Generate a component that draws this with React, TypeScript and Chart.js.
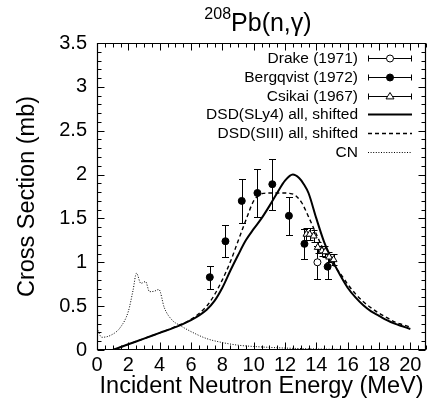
import React, { useEffect, useRef } from "react";
import { Chart, registerables } from "chart.js";

Chart.register(...registerables);

const FONT = "'Liberation Sans', Arial, Helvetica, sans-serif";

// ---- data ----
const xTickValues = [0, 2, 4, 6, 8, 10, 12, 14, 16, 18, 20];
const yTickValues = [0, 0.5, 1, 1.5, 2, 2.5, 3, 3.5];
const yTickLabels = ["0", "0.5", "1", "1.5", "2", "2.5", "3", "3.5"];
const xMinorStep = 0.5;
const yMinorStep = 0.1;

const drakeE = [14.07];
const drakeXS = [1.0];
const drakeErr = [0.19];

const bergE = [7.2, 8.2, 9.24, 10.24, 11.19, 12.25, 13.24, 14.72];
const bergXS = [0.83, 1.24, 1.7, 1.79, 1.89, 1.53, 1.21, 0.95];
const bergErr = [0.13, 0.18, 0.25, 0.27, 0.29, 0.22, 0.17, 0.14];

const csikaiE = [13.37, 13.58, 13.83, 14.09, 14.36, 14.57, 14.82, 15.1];
const csikaiXS = [1.32, 1.32, 1.3, 1.17, 1.13, 1.12, 1.06, 1.03];
const csikaiErr = [0.07, 0.07, 0.07, 0.06, 0.06, 0.06, 0.06, 0.06];

const slyE = [1, 2, 3, 4, 5, 6, 7, 7.5, 8, 8.5, 9, 9.5, 10, 10.5, 11, 11.5, 12, 12.5, 12.9, 13.2, 13.5, 14, 14.5, 15, 15.5, 16, 16.5, 17, 17.5, 18, 18.5, 19, 19.5, 20];
const slyXS = [0, 0.065, 0.13, 0.195, 0.26, 0.34, 0.46, 0.56, 0.71, 0.9, 1.08, 1.25, 1.38, 1.5, 1.64, 1.79, 1.93, 2.0, 1.96, 1.89, 1.79, 1.5, 1.23, 1.03, 0.86, 0.71, 0.6, 0.51, 0.44, 0.39, 0.34, 0.3, 0.27, 0.24];

const siiiE = [1, 2, 3, 4, 5, 6, 7, 7.5, 8, 8.5, 9, 9.5, 10, 10.3, 10.6, 11, 11.5, 12, 12.3, 12.6, 12.9, 13.1, 13.5, 14, 14.5, 15, 15.5, 16, 16.5, 17, 17.5, 18, 18.5, 19, 19.5, 20];
const siiiXS = [0, 0.065, 0.13, 0.195, 0.265, 0.35, 0.5, 0.63, 0.8, 1.0, 1.24, 1.48, 1.7, 1.76, 1.785, 1.79, 1.79, 1.79, 1.785, 1.77, 1.72, 1.67, 1.52, 1.32, 1.13, 0.99, 0.88, 0.75, 0.64, 0.55, 0.48, 0.42, 0.37, 0.32, 0.29, 0.26];

const cnE = [0, 0.3, 0.9, 1.5, 2.0, 2.3, 2.52, 2.8, 3.1, 3.35, 3.65, 3.95, 4.3, 4.8, 5.3, 6, 7, 8, 9, 10, 11, 12, 14, 16, 18, 20];
const cnXS = [0.25, 0.145, 0.17, 0.26, 0.44, 0.68, 0.875, 0.76, 0.78, 0.665, 0.67, 0.69, 0.48, 0.34, 0.28, 0.21, 0.13, 0.085, 0.055, 0.04, 0.03, 0.022, 0.012, 0.006, 0.003, 0.001];

const labels = [
  "Drake (1971)",
  "Bergqvist (1972)",
  "Csikai (1967)",
  "DSD(SLy4) all, shifted",
  "DSD(SIII) all, shifted",
  "CN",
];

const pts = (xs: number[], ys: number[]) => xs.map((x, i) => ({ x, y: ys[i] }));

// ---- plugins ----
const errorBarPlugin = {
  id: "errorBars",
  beforeDatasetsDraw(chart: any) {
    const { ctx, chartArea } = chart;
    const xs = chart.scales.x;
    const ys = chart.scales.y;
    ctx.save();
    ctx.beginPath();
    ctx.rect(chartArea.left, chartArea.top, chartArea.right - chartArea.left, chartArea.bottom - chartArea.top);
    ctx.clip();
    ctx.strokeStyle = "#000";
    ctx.lineWidth = 1;
    chart.data.datasets.forEach((ds: any) => {
      if (!ds.errors) return;
      ds.data.forEach((p: any, i: number) => {
        const e = ds.errors[i];
        const px = Math.round(xs.getPixelForValue(p.x)) + 0.5;
        const y1 = Math.round(ys.getPixelForValue(p.y + e)) + 0.5;
        const y2 = Math.round(ys.getPixelForValue(p.y - e)) + 0.5;
        const c = ds.capHalf;
        ctx.beginPath();
        ctx.moveTo(px, y1);
        ctx.lineTo(px, y2);
        ctx.moveTo(px - c, y1);
        ctx.lineTo(px + c, y1);
        ctx.moveTo(px - c, y2);
        ctx.lineTo(px + c, y2);
        ctx.stroke();
      });
    });
    ctx.restore();
  },
};

const drawMarker = (ctx: any, ds: any, x: number, y: number) => {
  const r = ds.pointRadius;
  ctx.save();
  ctx.lineWidth = ds.pointBorderWidth || 1;
  ctx.strokeStyle = "#000";
  ctx.fillStyle = ds.pointBackgroundColor;
  ctx.beginPath();
  if (ds.pointStyle === "triangle") {
    ctx.moveTo(x, y - r);
    ctx.lineTo(x + r * 0.866 * 1.15, y + r * 0.6);
    ctx.lineTo(x - r * 0.866 * 1.15, y + r * 0.6);
    ctx.closePath();
  } else {
    ctx.arc(x, y, r, 0, Math.PI * 2);
  }
  ctx.fill();
  ctx.stroke();
  ctx.restore();
};

const legendPlugin = {
  id: "customLegend",
  afterDraw(chart: any) {
    const { ctx } = chart;
    const textRight = 358;
    const s0 = 368;
    const s1 = 412;
    const top = 58;
    const step = 18.8;
    ctx.save();
    ctx.font = `15.5px ${FONT}`;
    ctx.textAlign = "right";
    ctx.textBaseline = "middle";
    ctx.fillStyle = "#000";
    chart.data.datasets.forEach((ds: any, i: number) => {
      const yy = Math.round(top + i * step) + 0.5;
      ctx.fillText(ds.label, textRight, yy);
      ctx.strokeStyle = "#000";
      if (ds.errors) {
        ctx.lineWidth = 1;
        ctx.setLineDash([]);
        ctx.beginPath();
        ctx.moveTo(s0, yy);
        ctx.lineTo(s1, yy);
        ctx.moveTo(s0 + 0.5, yy - 3);
        ctx.lineTo(s0 + 0.5, yy + 3);
        ctx.moveTo(s1 - 0.5, yy - 3);
        ctx.lineTo(s1 - 0.5, yy + 3);
        ctx.stroke();
        drawMarker(ctx, ds, (s0 + s1) / 2, yy);
      } else {
        ctx.lineWidth = ds.borderWidth;
        ctx.setLineDash(ds.borderDash || []);
        ctx.beginPath();
        ctx.moveTo(s0, yy);
        ctx.lineTo(s1, yy);
        ctx.stroke();
        ctx.setLineDash([]);
      }
    });
    ctx.restore();
  },
};

const framePlugin = {
  id: "frameTicks",
  afterDraw(chart: any) {
    const { ctx, chartArea } = chart;
    const xs = chart.scales.x;
    const ys = chart.scales.y;
    const L = chartArea.left + 0.5;
    const R = chartArea.right - 0.5;
    const T = chartArea.top + 0.5;
    const B = chartArea.bottom - 0.5;
    ctx.save();
    ctx.strokeStyle = "#000";
    ctx.lineWidth = 1.2;
    ctx.beginPath();
    ctx.rect(L, T, R - L, B - T);
    ctx.stroke();
    ctx.lineWidth = 1;
    const major = 7;
    const minor = 4;
    ctx.beginPath();
    for (let v = xs.min; v <= xs.max + 1e-9; v += xMinorStep) {
      const isMajor = xTickValues.some((t) => Math.abs(t - v) < 1e-6);
      const len = isMajor ? major : minor;
      const px = Math.round(xs.getPixelForValue(v)) + 0.5;
      ctx.moveTo(px, B);
      ctx.lineTo(px, B - len);
      ctx.moveTo(px, T);
      ctx.lineTo(px, T + len);
    }
    for (let v = ys.min; v <= ys.max + 1e-9; v += yMinorStep) {
      const isMajor = yTickValues.some((t) => Math.abs(t - v) < 1e-6);
      const len = isMajor ? major : minor;
      const py = Math.round(ys.getPixelForValue(v)) + 0.5;
      ctx.moveTo(L, py);
      ctx.lineTo(L + len, py);
      ctx.moveTo(R, py);
      ctx.lineTo(R - len, py);
    }
    ctx.stroke();
    ctx.restore();
  },
};

const titlePlugin = {
  id: "supTitle",
  afterDraw(chart: any) {
    const { ctx } = chart;
    const sup = "208";
    const main = "Pb(n,\u03b3)";
    ctx.save();
    ctx.fillStyle = "#000";
    ctx.textBaseline = "alphabetic";
    ctx.textAlign = "left";
    ctx.font = `16px ${FONT}`;
    const ws = ctx.measureText(sup).width;
    ctx.font = `25px ${FONT}`;
    const wm = ctx.measureText(main).width;
    const cx = 258;
    const x0 = cx - (ws + wm) / 2;
    const base = 31;
    ctx.font = `16px ${FONT}`;
    ctx.fillText(sup, x0, base - 12);
    ctx.font = `25px ${FONT}`;
    ctx.fillText(main, x0 + ws, base);
    ctx.restore();
  },
};

export default function App() {
  const ref = useRef<HTMLCanvasElement | null>(null);

  useEffect(() => {
    if (!ref.current) return;
    const chart = new Chart(ref.current, {
      type: "scatter",
      data: {
        datasets: [
          {
            label: labels[0],
            data: pts(drakeE, drakeXS),
            errors: drakeErr,
            capHalf: 3.5,
            showLine: false,
            pointStyle: "circle",
            pointRadius: 3.5,
            pointBorderWidth: 1,
            pointBackgroundColor: "#fff",
            pointBorderColor: "#000",
            borderColor: "#000",
          } as any,
          {
            label: labels[1],
            data: pts(bergE, bergXS),
            errors: bergErr,
            capHalf: 3.5,
            showLine: false,
            pointStyle: "circle",
            pointRadius: 3.5,
            pointBorderWidth: 1,
            pointBackgroundColor: "#000",
            pointBorderColor: "#000",
            borderColor: "#000",
          } as any,
          {
            label: labels[2],
            data: pts(csikaiE, csikaiXS),
            errors: csikaiErr,
            capHalf: 3,
            showLine: false,
            pointStyle: "triangle",
            pointRadius: 4,
            pointBorderWidth: 1,
            pointBackgroundColor: "#fff",
            pointBorderColor: "#000",
            borderColor: "#000",
          } as any,
          {
            label: labels[3],
            data: pts(slyE, slyXS),
            showLine: true,
            pointRadius: 0,
            borderColor: "#000",
            borderWidth: 2,
            cubicInterpolationMode: "monotone",
          } as any,
          {
            label: labels[4],
            data: pts(siiiE, siiiXS),
            showLine: true,
            pointRadius: 0,
            borderColor: "#000",
            borderWidth: 1.4,
            borderDash: [4, 3],
            cubicInterpolationMode: "monotone",
          } as any,
          {
            label: labels[5],
            data: pts(cnE, cnXS),
            showLine: true,
            pointRadius: 0,
            borderColor: "#000",
            borderWidth: 1,
            borderDash: [1, 1.6],
            cubicInterpolationMode: "monotone",
          } as any,
        ],
      },
      options: {
        animation: false,
        responsive: false,
        devicePixelRatio: 1,
        layout: { padding: { top: 43, right: 3, left: 0, bottom: 0 } },
        plugins: {
          legend: { display: false },
          tooltip: { enabled: false },
          title: { display: false },
        },
        scales: {
          x: {
            type: "linear",
            min: 0,
            max: 21,
            afterFit: (s: any) => {
              s.height = 60;
            },
            afterBuildTicks: (s: any) => {
              s.ticks = xTickValues.map((v) => ({ value: v }));
            },
            grid: { display: false, drawTicks: false },
            border: { display: false },
            ticks: {
              color: "#000",
              font: { family: FONT, size: 20 },
              padding: 3,
              maxRotation: 0,
              autoSkip: false,
            },
            title: {
              display: true,
              text: "Incident Neutron Energy (MeV)",
              color: "#000",
              font: { family: FONT, size: 23.5 },
              padding: { top: 0, bottom: 9 },
            },
          },
          y: {
            type: "linear",
            min: 0,
            max: 3.5,
            afterFit: (s: any) => {
              s.width = 97;
            },
            afterBuildTicks: (s: any) => {
              s.ticks = yTickValues.map((v) => ({ value: v }));
            },
            grid: { display: false, drawTicks: false },
            border: { display: false },
            ticks: {
              color: "#000",
              font: { family: FONT, size: 20 },
              padding: 10,
              autoSkip: false,
              callback: (v: any) => {
                const i = yTickValues.findIndex((t) => Math.abs(t - v) < 1e-9);
                return i >= 0 ? yTickLabels[i] : "";
              },
            },
            title: {
              display: true,
              text: "Cross Section (mb)",
              color: "#000",
              font: { family: FONT, size: 23.5 },
              padding: { top: 13, bottom: 0 },
            },
          },
        },
      } as any,
      plugins: [errorBarPlugin, framePlugin, legendPlugin, titlePlugin],
    });
    return () => chart.destroy();
  }, []);

  return (
    <div style={{ position: "absolute", left: 0, top: 0, width: 431, height: 410, background: "#fff" }}>
      <canvas ref={ref} width={431} height={410} style={{ display: "block", width: 431, height: 410 }} />
    </div>
  );
}
